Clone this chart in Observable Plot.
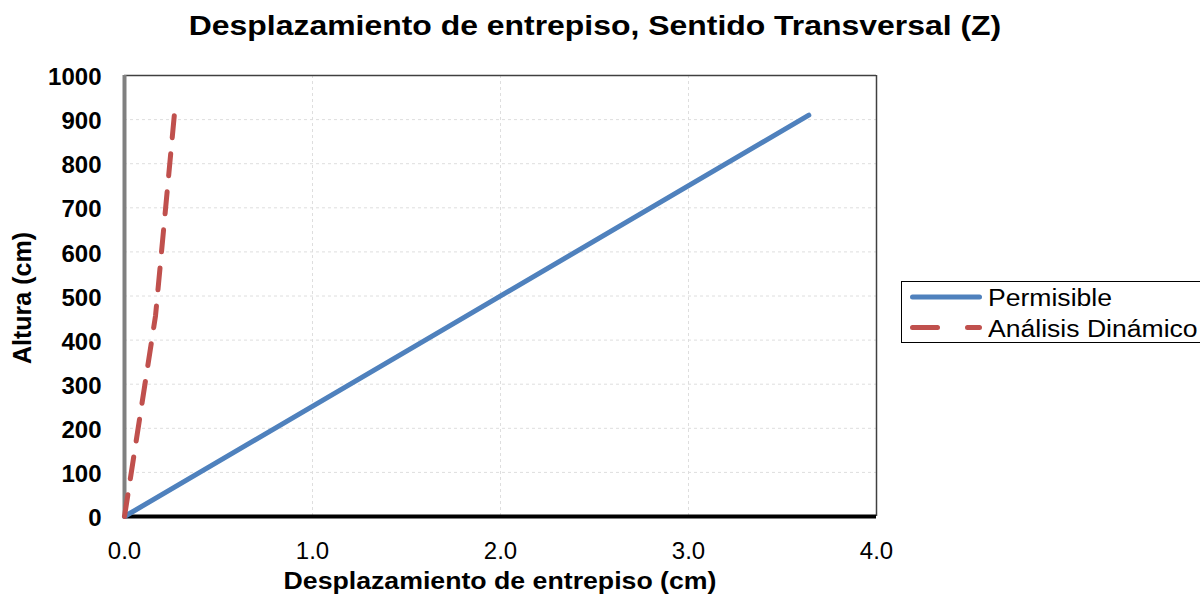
<!DOCTYPE html>
<html>
<head>
<meta charset="utf-8">
<script src="https://cdn.jsdelivr.net/npm/d3@7"></script>
<script src="https://cdn.jsdelivr.net/npm/@observablehq/plot@0.6"></script>
<style>
  html, body { margin: 0; padding: 0; background: #fff; overflow: hidden; }
  #wrap { position: relative; width: 1200px; height: 602px; font-family: "Liberation Sans", Arial, sans-serif; color: #000; }
  #chart { position: absolute; left: 0; top: 0; }
  .t { position: absolute; white-space: nowrap; line-height: 1; }
  .title { left: 595px; top: 11px; font-size: 28.5px; font-weight: bold; transform: translateX(-50%) scaleX(1.12); }
  .xlabel { left: 500px; top: 570px; font-size: 23px; font-weight: bold; transform: translateX(-50%) scaleX(1.16); }
  .ylabel { left: 22px; top: 298px; font-size: 25px; font-weight: bold; transform: translate(-50%, -50%) rotate(-90deg); }
  .legendbox { position: absolute; left: 901px; top: 281px; width: 320px; height: 62px; border: 1px solid #000; box-sizing: border-box; }
  .lt { left: 988px; font-size: 23px; transform-origin: left center; transform: scaleX(1.155); }
  #legsvg { position: absolute; left: 0; top: 0; }
</style>
</head>
<body>
<div id="wrap">
  <div id="chart"></div>
  <div class="t title">Desplazamiento de entrepiso, Sentido Transversal (Z)</div>
  <div class="t xlabel">Desplazamiento de entrepiso (cm)</div>
  <div class="t ylabel">Altura (cm)</div>
  <div class="legendbox"></div>
  <svg id="legsvg" width="1200" height="602"></svg>
</div>
<script>
const heights = [0, 455, 910];
const permisible = [0, 1.82, 3.64];
const dinamico = [0, 0.165, 0.265];
const xTicks = [0, 1, 2, 3, 4];
const yTicks = [0, 100, 200, 300, 400, 500, 600, 700, 800, 900, 1000];
const seriesNames = ["Permisible", "Análisis Dinámico"];
const seriesColors = ["#4F81BD", "#C0504D"];

const permData = heights.map((h, i) => ({x: permisible[i], y: h}));
const dinData = heights.map((h, i) => ({x: dinamico[i], y: h}));

const chart = Plot.plot({
  width: 1200,
  height: 602,
  marginLeft: 124,
  marginRight: 324,
  marginTop: 75,
  marginBottom: 86,
  style: {fontFamily: "'Liberation Sans', Arial, sans-serif", background: "transparent"},
  x: {domain: [0, 4], ticks: xTicks},
  y: {domain: [0, 1000], ticks: yTicks},
  marks: [
    Plot.gridY(yTicks.filter(d => d > 0 && d < 1000), {stroke: "#dedede", strokeOpacity: 1, strokeDasharray: "3,3"}),
    Plot.gridX([1, 2, 3], {stroke: "#dedede", strokeOpacity: 1, strokeDasharray: "3,3"}),
    Plot.ruleY([1000], {stroke: "#404040", strokeWidth: 1.5}),
    Plot.ruleX([4], {stroke: "#404040", strokeWidth: 1.5}),
    Plot.axisX(xTicks, {tickSize: 0, tickPadding: 25, fontSize: 24, tickFormat: d => d.toFixed(1), label: null, fill: "#000"}),
    Plot.axisY(yTicks, {tickSize: 0, tickPadding: 23, fontSize: 24, fontWeight: "bold", tickFormat: d => String(d), label: null, fill: "#000", dy: 2}),
    Plot.ruleX([0], {stroke: "#808080", strokeWidth: 4}),
    Plot.ruleY([0], {stroke: "#000", strokeWidth: 4, x1: 0, x2: 4}),
    Plot.line(permData, {x: "x", y: "y", stroke: seriesColors[0], strokeWidth: 5, strokeLinecap: "round"}),
    Plot.line(dinData, {x: "x", y: "y", stroke: seriesColors[1], strokeWidth: 5, strokeLinecap: "round", strokeDasharray: "22,16.2"})
  ]
});
document.getElementById("chart").appendChild(chart);

// legend
const ls = d3.select("#legsvg");
const legY = [297, 327.5];
const wrap = document.getElementById("wrap");
seriesNames.forEach((n, i) => {
  const line = ls.append("line").attr("x1", 912.5).attr("x2", 979.5).attr("y1", legY[i]).attr("y2", legY[i])
    .attr("stroke", seriesColors[i]).attr("stroke-width", 5).attr("stroke-linecap", "round");
  if (i === 1) line.attr("stroke-dasharray", "25,30");
  const d = document.createElement("div");
  d.className = "t lt";
  d.style.top = (legY[i] + 1.5 - 0.488 * 23) + "px";
  d.textContent = n;
  wrap.appendChild(d);
});
</script>
</body>
</html>
